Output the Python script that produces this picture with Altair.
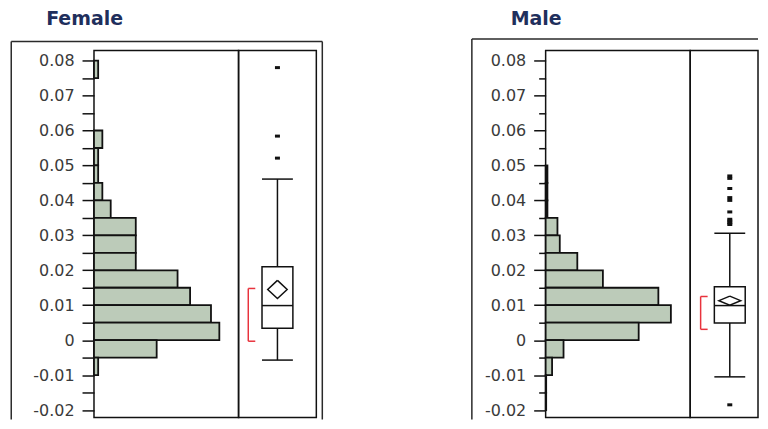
import altair as alt
import pandas as pd

# ---------------- data ----------------
tick_values = [-0.02, -0.015, -0.01, -0.005, 0.0, 0.005, 0.01, 0.015, 0.02, 0.025,
               0.03, 0.035, 0.04, 0.045, 0.05, 0.055, 0.06, 0.065, 0.07, 0.075, 0.08]
y_domain = [-0.0221, 0.0829]
bin_width = 0.005

female_bin_start = [0.075, 0.055, 0.050, 0.045, 0.040, 0.035, 0.030, 0.025, 0.020,
                    0.015, 0.010, 0.005, 0.000, -0.005, -0.010]
female_counts = [1, 2, 1, 1, 2, 4, 10, 10, 10, 20, 23, 28, 30, 15, 1]

male_bin_start = [0.045, 0.040, 0.035, 0.030, 0.025, 0.020, 0.015, 0.010, 0.005,
                  0.000, -0.005, -0.010, -0.015, -0.020]
male_counts = [1, 1, 1, 6.6, 7.9, 17.7, 32, 63, 70, 52, 10, 3.6, 0.3, 0.3]

female_stats = {"whisker_lo": -0.0057, "q1": 0.0034, "median": 0.0099, "q3": 0.0210,
                "whisker_hi": 0.0461, "mean": 0.0145, "mean_lo": 0.0119, "mean_hi": 0.0171,
                "short_lo": -0.0003, "short_hi": 0.0148}
male_stats = {"whisker_lo": -0.0105, "q1": 0.0049, "median": 0.0099, "q3": 0.0153,
              "whisker_hi": 0.0306, "mean": 0.0113, "mean_lo": 0.0100, "mean_hi": 0.0126,
              "short_lo": 0.0031, "short_hi": 0.0125}

female_outliers = [0.0780, 0.0584, 0.0521]
male_outliers = [0.0470, 0.0463, 0.0434, 0.0408, 0.0400, 0.0367, 0.0346, 0.0341,
                 0.0336, 0.0331, -0.0185]

# ---------------- layout constants ----------------
HIST_W, H = 145, 368
BOX_W_F, BOX_W_M, GAP_W = 78, 68, 230
BAR_FILL = "#bccbb9"
INK = "#111111"
FRAME = "#2a2a2a"
RED = "#e8333d"
FONT = "DejaVu Sans"

label_expr = ("abs(round(datum.value*200)) % 2 == 0 ? "
              "(abs(datum.value) < 1e-9 ? '0' : (datum.value < 0 ? '-' : '') + format(abs(datum.value), '.2f')) : ''")

one = pd.DataFrame({"k": [0]})


def yscale():
    return alt.Scale(domain=y_domain, nice=False, zero=False, padding=0)


def hist_chart(name, bins, counts, xmax, short_minor, fl, ft, fr, fb, right_line, title_x):
    if short_minor:
        tick_size = {"condition": {"test": "abs(round(datum.value*200)) % 2 == 1", "value": 7}, "value": 12}
    else:
        tick_size = 12
    yaxis = alt.Axis(values=tick_values, labelExpr=label_expr, domain=False, grid=False,
                     tickSize=tick_size, tickWidth=1.5, tickColor=INK, labelFont=FONT,
                     labelFontSize=16, labelColor="#3a3a3a", labelPadding=8, title=None)

    hist_df = pd.DataFrame({"lo": bins, "count": counts})
    hist_df["hi"] = hist_df["lo"] + bin_width

    bars = alt.Chart(hist_df).mark_bar(orient="horizontal", fill=BAR_FILL, stroke=INK,
                                       strokeWidth=1.8).encode(
        x=alt.X("count:Q", scale=alt.Scale(domain=[0, xmax], nice=False, padding=0), axis=None),
        y=alt.Y("lo:Q", scale=yscale(), axis=yaxis),
        y2="hi:Q",
    )
    fr_style = dict(color=FRAME, strokeWidth=1.5)
    frame = [
        alt.Chart(one).mark_rule(**fr_style).encode(x=alt.value(fl), y=alt.value(ft), y2=alt.value(fb)),
        alt.Chart(one).mark_rule(**fr_style).encode(x=alt.value(fl), x2=alt.value(fr), y=alt.value(ft)),
    ]
    if right_line:
        frame.append(alt.Chart(one).mark_rule(**fr_style).encode(
            x=alt.value(fr), y=alt.value(ft), y2=alt.value(fb)))
    title = alt.Chart(one).mark_text(text=name, align="left", baseline="alphabetic", font=FONT,
                                     fontSize=19, fontWeight="bold", color="#1f2f5c").encode(
        x=alt.value(title_x), y=alt.value(-26))
    return alt.layer(*frame, bars, title).properties(width=HIST_W, height=H)


def box_chart(stats, outliers, width, xdom, dia_half):
    xs = alt.Scale(domain=xdom, nice=False, zero=False, padding=0)
    base = alt.Chart(pd.DataFrame([stats]))

    def xd(v):
        return alt.XDatum(v, type="quantitative", scale=xs, axis=None)

    def yf(f):
        return alt.Y(f + ":Q", scale=yscale(), axis=None)

    half = 0.397
    wlo = base.mark_rule(color=INK, strokeWidth=1.5).encode(x=xd(0), y=yf("whisker_lo"), y2="q1:Q")
    whi = base.mark_rule(color=INK, strokeWidth=1.5).encode(x=xd(0), y=yf("q3"), y2="whisker_hi:Q")
    caps = [base.mark_rule(color=INK, strokeWidth=1.5).encode(
        x=xd(-half), x2=alt.X2Datum(half), y=yf(f)) for f in ("whisker_lo", "whisker_hi")]
    box = base.mark_rect(fill="white", stroke=INK, strokeWidth=1.5).encode(
        x=xd(-half), x2=alt.X2Datum(half), y=yf("q1"), y2="q3:Q")

    dia_df = pd.DataFrame({"ord": [0, 1, 2, 3, 4], "side": [0, 1, 0, -1, 0],
                           "which": ["mean_hi", "mean", "mean_lo", "mean", "mean_hi"]})
    dia_df["v"] = [stats[w] for w in dia_df["which"]]
    diamond = alt.Chart(dia_df).transform_calculate(dx=f"datum.side * {dia_half}").mark_line(
        color=INK, strokeWidth=1.5).encode(
        x=alt.X("dx:Q", scale=xs, axis=None), y=yf("v"), order="ord:Q")
    median = base.mark_rule(color=INK, strokeWidth=1.5).encode(
        x=xd(-half), x2=alt.X2Datum(half), y=yf("median"))

    bx0, bx1 = -0.75, -0.57
    br_v = base.mark_rule(color=RED, strokeWidth=1.5).encode(x=xd(bx0), y=yf("short_lo"), y2="short_hi:Q")
    br_h = [base.mark_rule(color=RED, strokeWidth=1.5).encode(
        x=xd(bx0), x2=alt.X2Datum(bx1), y=yf(f)) for f in ("short_lo", "short_hi")]

    outs = alt.Chart(pd.DataFrame({"v": outliers})).mark_point(
        shape="M-1,-0.6H1V0.6H-1Z", filled=True, size=25, color=INK, opacity=1).encode(
        x=xd(0), y=yf("v"))

    return alt.layer(wlo, whi, box, *caps, diamond, median, br_v, *br_h, outs).properties(
        width=width, height=H)


spacer = alt.Chart(one).mark_point(opacity=0).encode(
    x=alt.X("k:Q", axis=None), y=alt.Y("k:Q", axis=None)).properties(
    width=GAP_W, height=H, view=alt.ViewBackground(stroke=None))

chart = alt.hconcat(
    hist_chart("Female", female_bin_start, female_counts, 34.6, False,
               -83, -9, 229, 370, True, -48),
    box_chart(female_stats, female_outliers, BOX_W_F, [-1, 1], 0.25),
    spacer,
    hist_chart("Male", male_bin_start, male_counts, 80.8, True,
               -74, -11.5, 213, 370, False, -35),
    box_chart(male_stats, male_outliers, BOX_W_M, [-1.018, 0.726], 0.28),
    spacing=0, bounds="flush",
).configure_view(stroke=INK, strokeWidth=1.5).properties(
    padding={"left": 1.25, "top": 0, "right": 0, "bottom": 0})

chart.save("out.html", embed_options={"renderer": "svg", "actions": False})
